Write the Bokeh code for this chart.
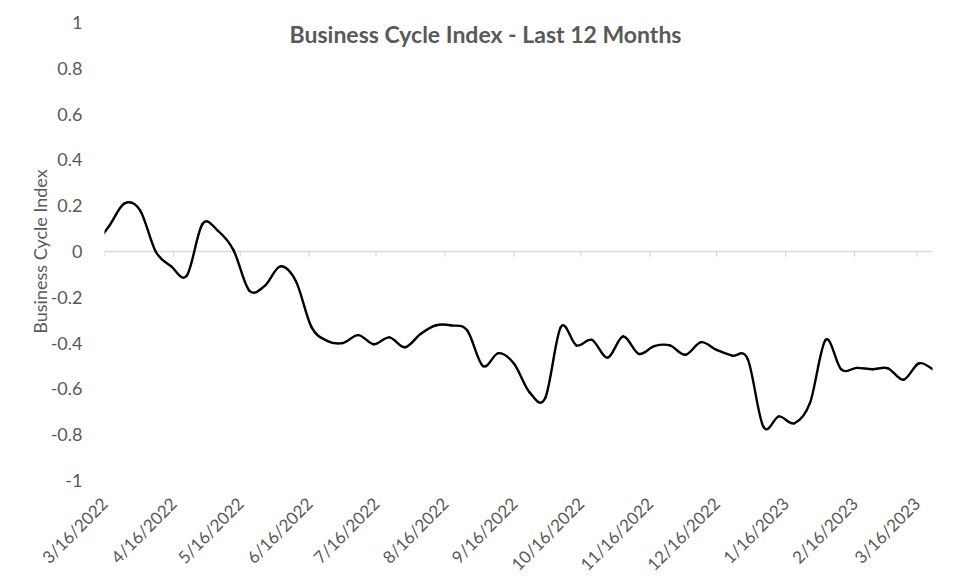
import numpy as np
import pandas as pd
from bokeh.plotting import figure
from bokeh.models import Range1d, FixedTicker, Span, Label
from bokeh.embed import file_html
from bokeh.resources import INLINE

# ---------------- data ----------------
title_text = "Business Cycle Index - Last 12 Months"
y_axis_title = "Business Cycle Index"

axis_start = "2022-03-16"
axis_end = "2023-03-23"
first_date = "2022-03-11"          # weekly (Friday) observations
bci_values = [
    0.02, 0.11, 0.21, 0.18, 0.00, -0.065, -0.105, 0.12, 0.09, 0.005,
    -0.17, -0.15, -0.065, -0.13, -0.33, -0.39, -0.40, -0.365, -0.405, -0.375,
    -0.418, -0.36, -0.322, -0.323, -0.345, -0.50, -0.444, -0.49, -0.615, -0.64,
    -0.33, -0.41, -0.386, -0.464, -0.371, -0.447, -0.413, -0.41, -0.451, -0.396,
    -0.43, -0.455, -0.47, -0.765, -0.72, -0.75, -0.66, -0.386, -0.515, -0.508,
    -0.514, -0.51, -0.56, -0.488, -0.52,
]
x_tick_labels = ["3/16/2022", "4/16/2022", "5/16/2022", "6/16/2022", "7/16/2022",
                 "8/16/2022", "9/16/2022", "10/16/2022", "11/16/2022", "12/16/2022",
                 "1/16/2023", "2/16/2023", "3/16/2023"]
y_ticks = [-1.0, -0.8, -0.6, -0.4, -0.2, 0.0, 0.2, 0.4, 0.6, 0.8, 1.0]
y_tick_labels = ["-1", "-0.8", "-0.6", "-0.4", "-0.2", "0", "0.2", "0.4", "0.6", "0.8", "1"]

# ---------------- derived ----------------
t0 = pd.Timestamp(axis_start)
dates = pd.date_range(first_date, periods=len(bci_values), freq="7D")
x = np.asarray((dates - t0).days, dtype=float)
y = np.asarray(bci_values, dtype=float)
x_end = float((pd.Timestamp(axis_end) - t0).days)
tick_days = [int((pd.to_datetime(s, format="%m/%d/%Y") - t0).days) for s in x_tick_labels]

# Excel-like smoothed line: cubic Bezier segments (Catmull-Rom style tangents)
n = len(x)
xp = np.concatenate([[x[0]], x, [x[-1]]])
yp = np.concatenate([[y[0]], y, [y[-1]]])
k = np.arange(n - 1)
cx0 = x[k] + (x[k + 1] - xp[k]) / 6.0
cy0 = y[k] + (y[k + 1] - yp[k]) / 6.0
cx1 = x[k + 1] - (xp[k + 3] - x[k]) / 6.0
cy1 = y[k + 1] - (yp[k + 3] - y[k]) / 6.0

FONT = "Lato"
GREY = "#595959"

p = figure(width=970, height=585, output_backend="svg", toolbar_location=None,
           x_range=Range1d(0, x_end), y_range=Range1d(-1, 1),
           min_border_left=104, min_border_right=38, min_border_top=22, min_border_bottom=105)
p.outline_line_color = None
p.grid.visible = False
p.background_fill_color = "white"
p.border_fill_color = "white"

# zero line with tick marks
p.add_layout(Span(location=0, dimension="width", line_color="#D9D9D9", line_width=1.3, level="underlay"))
tick_len = 5.0 / 229.0
p.segment(x0=tick_days, y0=[0] * len(tick_days), x1=tick_days, y1=[-tick_len] * len(tick_days),
          line_color="#D9D9D9", line_width=1.3, level="underlay")

p.bezier(x0=x[k], y0=y[k], x1=x[k + 1], y1=y[k + 1], cx0=cx0, cy0=cy0, cx1=cx1, cy1=cy1,
         line_color="black", line_width=2.4, line_cap="round")

# y axis
ya = p.yaxis[0]
ya.ticker = FixedTicker(ticks=y_ticks)
ya.major_label_overrides = {t: l for t, l in zip(y_ticks, y_tick_labels)}
ya.axis_line_color = None
ya.major_tick_line_color = None
ya.minor_tick_line_color = None
ya.major_label_standoff = 16
ya.major_label_text_font = FONT
ya.major_label_text_font_size = "18px"
ya.major_label_text_color = GREY
ya.axis_label = y_axis_title
ya.axis_label_text_font = FONT
ya.axis_label_text_font_size = "18px"
ya.axis_label_text_font_style = "normal"
ya.axis_label_text_color = GREY
ya.axis_label_standoff = -3

# x axis (labels at low position)
xa = p.xaxis[0]
xa.ticker = FixedTicker(ticks=tick_days)
xa.major_label_overrides = {t: l for t, l in zip(tick_days, x_tick_labels)}
xa.axis_line_color = None
xa.major_tick_line_color = None
xa.minor_tick_line_color = None
xa.major_label_orientation = np.pi / 4
xa.major_label_standoff = 14
xa.major_label_text_font = FONT
xa.major_label_text_font_size = "17px"
xa.major_label_text_color = GREY

# title
title_px_x, title_px_y = 485, 33
fx = (title_px_x - 104) / (932 - 104) * x_end
fy = 1 - (title_px_y - 22) / 229.0
p.add_layout(Label(x=fx, y=fy, text=title_text, text_align="center", text_baseline="middle",
                   text_font=FONT, text_font_size="23px", text_font_style="bold", text_color=GREY))

open("out.html", "w").write(file_html(p, INLINE))
